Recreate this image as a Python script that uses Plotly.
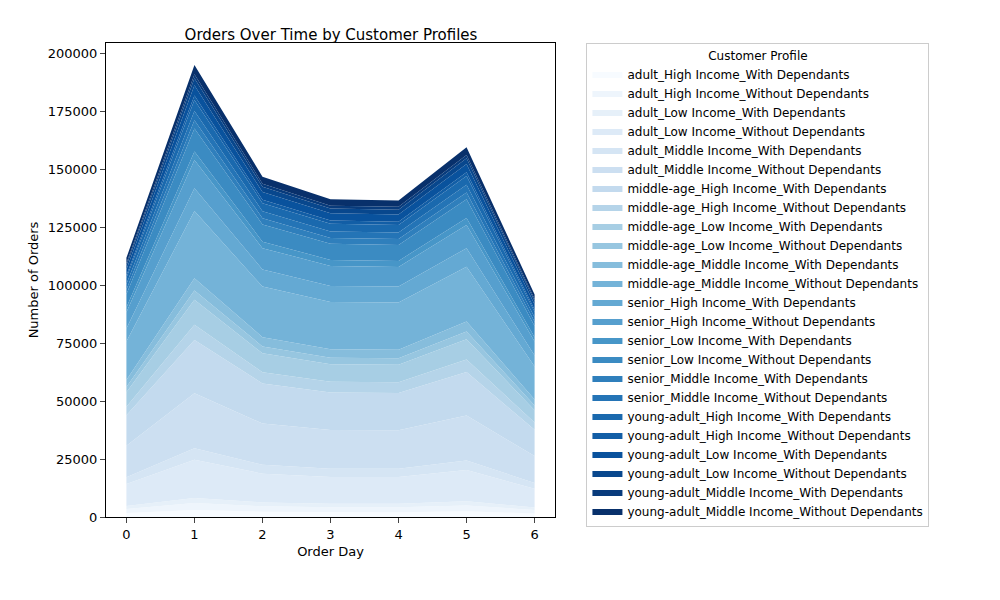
import plotly.graph_objects as go

days = [0, 1, 2, 3, 4, 5, 6]
profiles = [
    "adult_High Income_With Dependants", "adult_High Income_Without Dependants",
    "adult_Low Income_With Dependants", "adult_Low Income_Without Dependants",
    "adult_Middle Income_With Dependants", "adult_Middle Income_Without Dependants",
    "middle-age_High Income_With Dependants", "middle-age_High Income_Without Dependants",
    "middle-age_Low Income_With Dependants", "middle-age_Low Income_Without Dependants",
    "middle-age_Middle Income_With Dependants", "middle-age_Middle Income_Without Dependants",
    "senior_High Income_With Dependants", "senior_High Income_Without Dependants",
    "senior_Low Income_With Dependants", "senior_Low Income_Without Dependants",
    "senior_Middle Income_With Dependants", "senior_Middle Income_Without Dependants",
    "young-adult_High Income_With Dependants", "young-adult_High Income_Without Dependants",
    "young-adult_Low Income_With Dependants", "young-adult_Low Income_Without Dependants",
    "young-adult_Middle Income_With Dependants", "young-adult_Middle Income_Without Dependants",
]
values = [
    [1700, 3000, 2300, 2100, 2100, 2500, 1500],
    [1700, 3000, 2300, 2100, 2100, 2500, 1500],
    [1300, 2200, 1700, 1500, 1500, 1800, 1100],
    [9500, 16500, 12400, 11600, 11600, 13500, 8100],
    [2900, 5000, 3800, 3500, 3500, 4100, 2500],
    [13600, 23700, 17800, 16700, 16600, 19400, 11600],
    [13200, 23000, 17300, 16200, 16100, 18800, 11300],
    [3700, 6500, 4900, 4600, 4600, 5300, 3200],
    [6200, 10800, 8100, 7600, 7600, 8800, 5300],
    [2300, 4000, 3000, 2800, 2800, 3300, 2000],
    [3000, 5300, 4000, 3700, 3700, 4300, 2600],
    [16600, 29000, 21800, 20400, 20300, 23700, 14200],
    [5600, 9800, 7400, 6900, 6900, 8000, 4800],
    [7000, 12200, 9200, 8600, 8500, 10000, 6000],
    [2100, 3700, 2800, 2600, 2600, 3000, 1800],
    [5700, 9900, 7400, 7000, 6900, 8100, 4900],
    [2100, 3600, 2700, 2500, 2500, 2900, 1800],
    [2300, 4000, 3000, 2800, 2800, 3300, 2000],
    [2700, 4700, 3500, 3300, 3300, 3800, 2300],
    [1100, 2000, 1500, 1400, 1400, 1600, 1000],
    [2500, 4400, 3300, 3100, 3100, 3600, 2200],
    [1700, 3000, 2300, 2100, 2100, 2500, 1500],
    [1000, 1700, 1300, 1200, 1200, 1400, 800],
    [2300, 4000, 3000, 2800, 2800, 3300, 2000],
]

anchors = ["#f7fbff", "#deebf7", "#c6dbef", "#9ecae1", "#6baed6",
           "#4292c6", "#2171b5", "#08519c", "#08306b"]

def blues(t):
    p = t * 8
    i = min(int(p), 7)
    f = p - i
    a = [int(anchors[i][k:k + 2], 16) for k in (1, 3, 5)]
    b = [int(anchors[i + 1][k:k + 2], 16) for k in (1, 3, 5)]
    c = [round(a[j] + (b[j] - a[j]) * f) for j in range(3)]
    return "rgb(%d,%d,%d)" % tuple(c)

fig = go.Figure()
n = len(profiles)
for i, (name, vals) in enumerate(zip(profiles, values)):
    col = blues(i / (n - 1))
    fig.add_trace(go.Scatter(x=days, y=vals, name=name, stackgroup="one",
                             mode="lines", line=dict(width=0, color=col),
                             fillcolor=col))

fig.update_layout(
    width=1000, height=600, plot_bgcolor="white", paper_bgcolor="white",
    font=dict(family="DejaVu Sans", size=13, color="black"),
    margin=dict(l=98, r=453, t=35, b=91, autoexpand=False),
    title=dict(text="Orders Over Time by Customer Profiles", x=0.323, xanchor="center",
               y=0.965, font=dict(size=15)),
    xaxis=dict(range=[-0.3, 6.3], tickvals=days, showline=True, linecolor="black",
               mirror=True, ticks="outside", showgrid=False, zeroline=False,
               automargin=False, tickfont=dict(size=13),
               title=dict(text="Order Day", standoff=6, font=dict(size=13))),
    yaxis=dict(range=[0, 204500], dtick=25000, showline=True, linecolor="black",
               mirror=True, ticks="outside", showgrid=False, zeroline=False,
               automargin=False, tickformat="d", tickfont=dict(size=13),
               title=dict(text="Number of Orders", standoff=6, font=dict(size=13))),
    legend=dict(x=1.07, y=1.0, xanchor="left", yanchor="top", traceorder="normal",
                bordercolor="#cccccc", borderwidth=1, font=dict(size=12),
                maxheight=560, itemwidth=30,
                title=dict(text="Customer Profile", side="top center", font=dict(size=12)),
                tracegroupgap=0),
)
fig.write_html("out.html")
